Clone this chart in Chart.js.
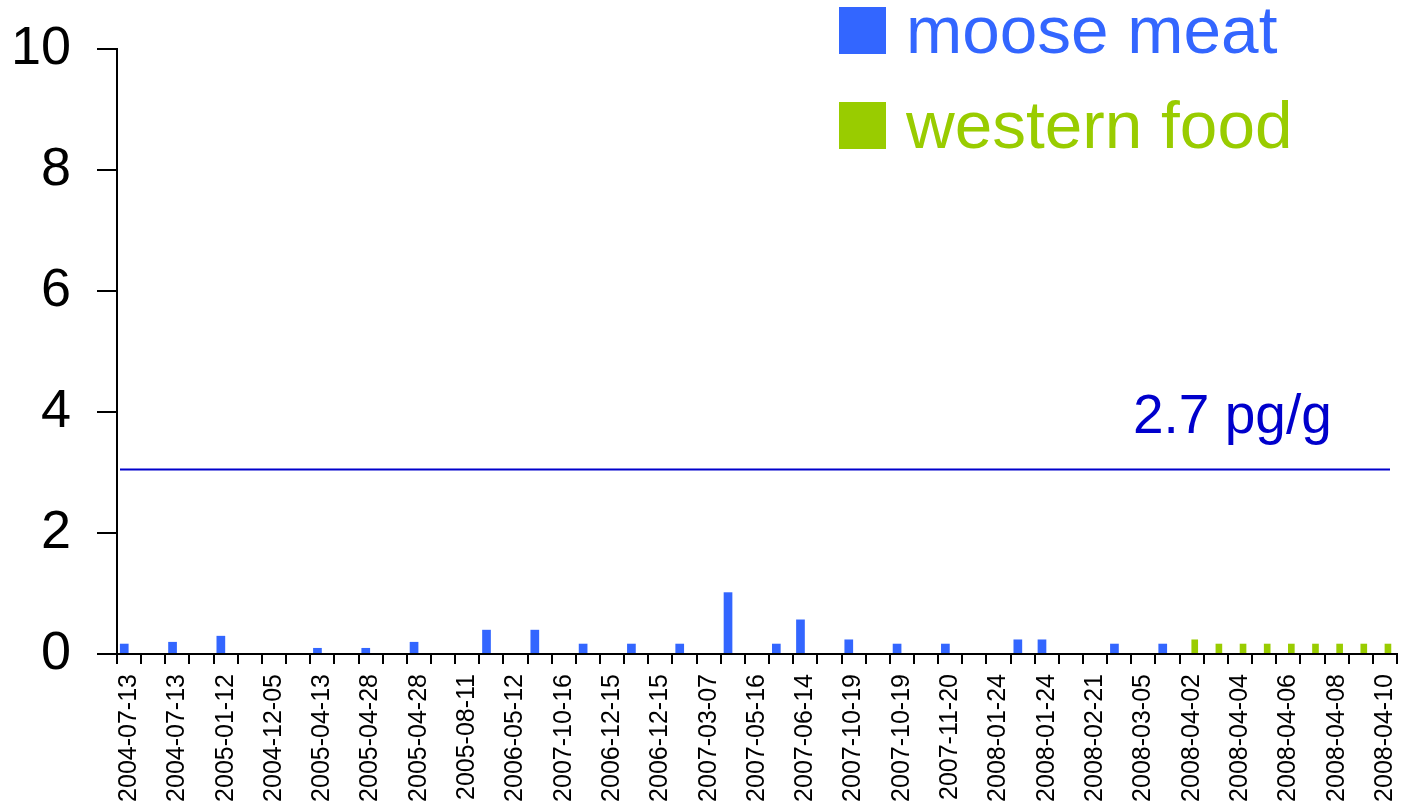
<!DOCTYPE html>
<html>
<head>
<meta charset="utf-8">
<script src="https://cdn.jsdelivr.net/npm/chart.js@4/dist/chart.umd.min.js"></script>
<style>
  body { margin: 0; background: #fff; }
  canvas { display: block; }
</style>
</head>
<body>
<canvas id="chart" width="1404" height="811"></canvas>
<script>
// sample dates, one printed under every second bar slot
const tickLabels = [
    '2004-07-13', '2004-07-13', '2005-01-12', '2004-12-05', '2005-04-13',
    '2005-04-28', '2005-04-28', '2005-08-11', '2006-05-12', '2007-10-16',
    '2006-12-15', '2006-12-15', '2007-03-07', '2007-05-16', '2007-06-14',
    '2007-10-19', '2007-10-19', '2007-11-20', '2008-01-24', '2008-01-24',
    '2008-02-21', '2008-03-05', '2008-04-02', '2008-04-04', '2008-04-06',
    '2008-04-08', '2008-04-10'
];

// pg/g per sample (53 slots)
const mooseMeat = [
    0.17, 0, 0.20, 0, 0.30, 0, 0, 0, 0.10, 0,
    0.10, 0, 0.20, 0, 0, 0.40, 0, 0.40, 0, 0.17,
    0, 0.17, 0, 0.17, 0, 1.02, 0, 0.17, 0.57, 0,
    0.24, 0, 0.17, 0, 0.17, 0, 0, 0.24, 0.24, 0,
    0, 0.17, 0, 0.17, null, null, null, null, null, null,
    null, null, null
];
const westernFood = [
    null, null, null, null, null, null, null, null, null, null,
    null, null, null, null, null, null, null, null, null, null,
    null, null, null, null, null, null, null, null, null, null,
    null, null, null, null, null, null, null, null, null, null,
    null, null, null, null, 0.24, 0.17, 0.17, 0.17, 0.17, 0.17,
    0.17, 0.17, 0.17
];

const threshold = 3.05;
const thresholdLabel = '2.7 pg/g';

const FONT = "Arial, 'Liberation Sans', Helvetica, sans-serif";

// every even slot gets a date, odd slots stay blank
const categories = mooseMeat.map((v, i) => i % 2 === 0 ? tickLabels[i / 2] : '');

// reference line + big legend drawn by hand
const overlay = {
    id: 'overlay',
    afterDatasetsDraw(chart) {
        const { ctx, chartArea, scales } = chart;
        const y = scales.y.getPixelForValue(threshold);

        ctx.save();
        ctx.strokeStyle = '#0000CC';
        ctx.lineWidth = 2;
        ctx.beginPath();
        ctx.moveTo(chartArea.left + 3, y);
        ctx.lineTo(chartArea.right - 7, y);
        ctx.stroke();

        ctx.fillStyle = '#0000CC';
        ctx.font = '55px ' + FONT;
        ctx.textBaseline = 'alphabetic';
        ctx.textAlign = 'left';
        ctx.fillText(thresholdLabel, chartArea.left + 1016, y - 36);

        // legend
        chart.data.datasets.forEach((ds, i) => {
            const top = 7 + i * 95;
            ctx.fillStyle = ds.backgroundColor;
            ctx.fillRect(839, top, 47, 47);
            ctx.font = '67.5px ' + FONT;
            ctx.fillText(ds.label, 906, top + 46);
        });
        ctx.restore();
    }
};

new Chart(document.getElementById('chart'), {
    type: 'bar',
    data: {
        labels: categories,
        datasets: [{
            label: 'moose meat',
            data: mooseMeat,
            backgroundColor: '#3366FF',
            categoryPercentage: 0.8,
            barPercentage: 0.9
        }, {
            label: 'western food',
            data: westernFood,
            backgroundColor: '#99CC00',
            categoryPercentage: 0.5,
            barPercentage: 1.1
        }]
    },
    options: {
        responsive: false,
        animation: false,
        devicePixelRatio: 1,
        layout: { padding: { top: 49, right: 7, left: 0, bottom: 0 } },
        plugins: {
            legend: { display: false },
            tooltip: { enabled: false }
        },
        scales: {
            x: {
                grid: {
                    drawOnChartArea: false,
                    tickLength: 10,
                    color: '#000',
                    lineWidth: 2
                },
                border: { color: '#000', width: 2 },
                ticks: {
                    autoSkip: false,
                    maxRotation: 90,
                    minRotation: 90,
                    padding: 10,
                    color: '#000',
                    font: { family: FONT, size: 25 }
                },
                afterFit(scale) {
                    scale.height = 157;
                    scale.paddingLeft = 0;
                    scale.paddingRight = 0;
                }
            },
            y: {
                min: 0,
                max: 10,
                grid: {
                    drawOnChartArea: false,
                    tickLength: 20,
                    color: '#000',
                    lineWidth: 2
                },
                border: { color: '#000', width: 2 },
                ticks: {
                    stepSize: 2,
                    padding: 26,
                    color: '#000',
                    font: { family: FONT, size: 54 }
                },
                afterFit(scale) {
                    scale.width = 117;
                    scale.paddingTop = 0;
                    scale.paddingBottom = 0;
                }
            }
        }
    },
    plugins: [overlay]
});
</script>
</body>
</html>
